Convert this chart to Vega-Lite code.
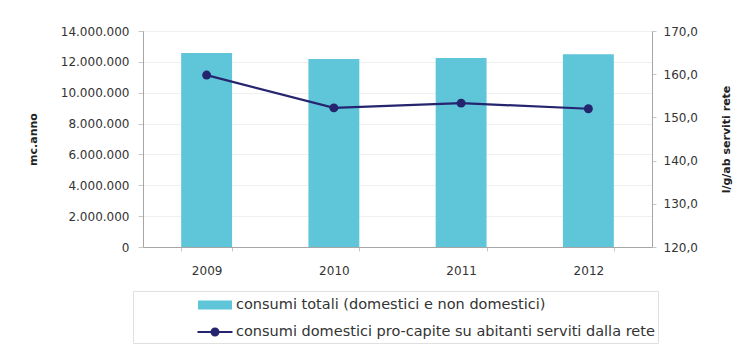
{
  "$schema": "https://vega.github.io/schema/vega-lite/v6.json",
  "width": 509,
  "height": 216,
  "autosize": {"type": "none"},
  "padding": {"left": 143, "top": 31, "right": 94, "bottom": 101},
  "background": "white",
  "data": {
    "values": [
      {"anno": "2009", "totale": 12570000, "procapite": 159.8},
      {"anno": "2010", "totale": 12190000, "procapite": 152.2},
      {"anno": "2011", "totale": 12250000, "procapite": 153.3},
      {"anno": "2012", "totale": 12500000, "procapite": 152.0}
    ]
  },
  "encoding": {
    "x": {
      "field": "anno",
      "type": "ordinal",
      "scale": {"paddingInner": 0.6, "paddingOuter": 0.3},
      "axis": {
        "title": null,
        "labelAngle": 0,
        "tickBand": "extent",
        "tickSize": 4,
        "labelPadding": 14,
        "domainColor": "#a6a6a6",
        "tickColor": "#c8c8c8"
      }
    }
  },
  "layer": [
    {
      "mark": {"type": "bar", "color": "#5fc5d9"},
      "encoding": {
        "y": {
          "field": "totale",
          "type": "quantitative",
          "scale": {"domain": [0, 14000000], "nice": false},
          "axis": {
            "title": "mc.anno",
            "values": [0, 2000000, 4000000, 6000000, 8000000, 10000000, 12000000, 14000000],
            "format": ",d",
            "tickSize": 5,
            "labelPadding": 9,
            "titlePadding": 22,
            "grid": true,
            "gridColor": "#efefef",
            "domainColor": "#a6a6a6",
            "tickColor": "#c8c8c8"
          }
        },
        "color": {
          "datum": "consumi totali (domestici e non domestici)",
          "type": "nominal",
          "scale": {
            "domain": ["consumi totali (domestici e non domestici)", "consumi domestici pro-capite su abitanti serviti dalla rete"],
            "range": ["#5fc5d9", "#25246f"]
          },
          "legend": {
            "orient": "none",
            "legendX": -10,
            "legendY": 260,
            "direction": "vertical",
            "title": null,
            "padding": 3,
            "strokeColor": "#e0e0e0",
            "fillColor": "white",
            "symbolSize": 400,
            "symbolOffset": 68,
            "labelOffset": 10,
            "rowPadding": 8,
            "encode": {
              "symbols": {
                "update": {
                  "shape": {"signal": "datum.value === 'consumi totali (domestici e non domestici)' ? 'M-1.6,-0.35H1.6V0.35H-1.6Z' : 'M-1.75,0H1.75M-0.35,0A0.35,0.35 0 1,1 0.35,0A0.35,0.35 0 1,1 -0.35,0'"},
                  "fill": {"signal": "datum.value === 'consumi totali (domestici e non domestici)' ? '#5fc5d9' : '#25246f'"},
                  "stroke": {"signal": "datum.value === 'consumi totali (domestici e non domestici)' ? 'transparent' : '#25246f'"},
                  "strokeWidth": {"value": 2},
                  "opacity": {"value": 1}
                }
              }
            }
          }
        }
      }
    },
    {
      "mark": {"type": "line", "strokeWidth": 2.2, "point": {"filled": true, "size": 80}},
      "encoding": {
        "y": {
          "field": "procapite",
          "type": "quantitative",
          "scale": {"domain": [120, 170], "nice": false},
          "axis": {
            "title": "l/g/ab serviti rete",
            "orient": "right",
            "values": [120, 130, 140, 150, 160, 170],
            "format": ".1f",
            "tickSize": 4,
            "labelPadding": 7,
            "titlePadding": 34,
            "titleAngle": -90,
            "grid": false,
            "domainColor": "#a6a6a6",
            "tickColor": "#c8c8c8"
          }
        },
        "color": {
          "datum": "consumi domestici pro-capite su abitanti serviti dalla rete",
          "type": "nominal"
        }
      }
    }
  ],
  "resolve": {"scale": {"y": "independent"}},
  "config": {
    "locale": {
      "number": {"decimal": ",", "thousands": ".", "grouping": [3], "currency": ["", " €"]}
    },
    "font": "DejaVu Sans",
    "view": {"stroke": "#a6a6a6"},
    "axis": {
      "labelFont": "DejaVu Sans",
      "labelFontSize": 12,
      "labelColor": "#333333",
      "titleFont": "DejaVu Sans",
      "titleFontSize": 11,
      "titleFontWeight": "bold",
      "titleColor": "#222222"
    },
    "legend": {
      "labelFont": "DejaVu Sans",
      "labelFontSize": 14.5,
      "labelColor": "#333333",
      "labelLimit": 600
    }
  }
}
